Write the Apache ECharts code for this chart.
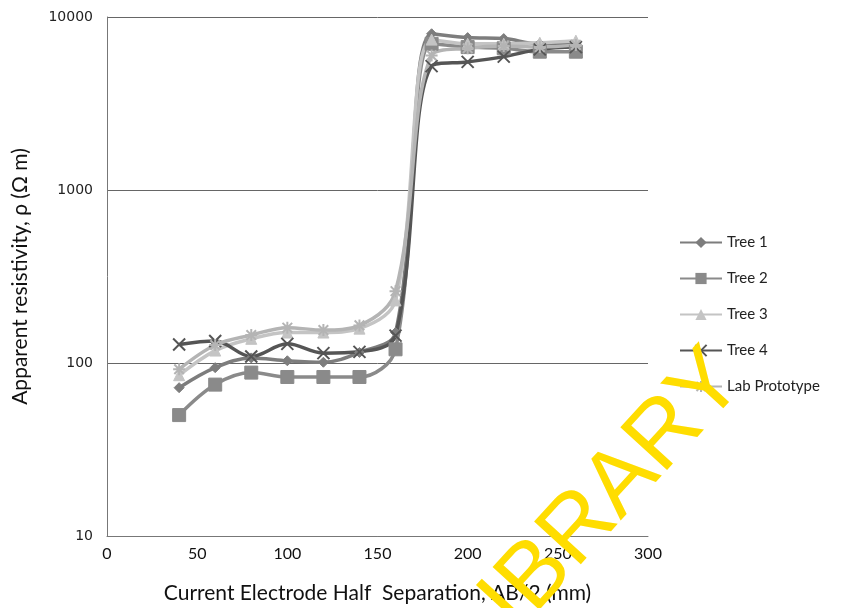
<!DOCTYPE html>
<html><head><meta charset="utf-8">
<script src="https://cdn.jsdelivr.net/npm/echarts@6/dist/echarts.min.js"></script>
<style>html,body{margin:0;padding:0;background:#fff}#c{width:850px;height:608px}</style>
</head><body><div id="c"></div>
<script>
var xs = [40, 60, 80, 100, 120, 140, 160, 180, 200, 220, 240, 260];
var tree1 = [72, 94, 107, 103, 101, 115, 150, 8000, 7600, 7500, 7000, 7000];
var tree2 = [50, 75, 88, 83, 83, 83, 120, 7000, 6700, 6600, 6300, 6300];
var tree3 = [85, 118, 138, 150, 150, 158, 230, 7400, 7000, 7000, 7100, 7300];
var tree4 = [128, 134, 109, 129, 114, 116, 144, 5200, 5500, 5900, 6500, 6700];
var lab = [92, 127, 145, 160, 155, 165, 260, 6000, 6600, 6800, 6700, 6900];
var yTicks = [10, 100, 1000, 10000];
var xTicks = [0, 50, 100, 150, 200, 250, 300];

function pts(v){ return xs.map(function(x,i){ return [x, v[i]]; }); }
var font = 'Lato, "Open Sans", sans-serif';
function mk(name, data, color, symbol, size, stroke){
  var it = {color:color, borderColor:color};
  if (stroke) { it.borderWidth = 2; }
  return {name:name, type:'line', data:pts(data), smooth:0.35, symbol:symbol, symbolSize:size,
    lineStyle:{color:color, width:3.5}, itemStyle:it, showSymbol:true};
}
var chart = echarts.init(document.getElementById('c'), null, {renderer:'canvas'});
chart.setOption({
  animation:false,
  backgroundColor:'#fff',
  grid:{left:107, right:202, top:17, bottom:72, containLabel:false, outerBoundsMode:'none'},
  legend:{orient:'vertical', left:674, top:230, itemGap:21, itemWidth:42, itemHeight:14,
    textStyle:{fontFamily:font, fontSize:15, color:'#222'},
    data:['Tree 1','Tree 2','Tree 3','Tree 4','Lab Prototype']},
  xAxis:{type:'value', min:0, max:300, interval:50,
    name:'Current Electrode Half  Separation, AB/2 (mm)', nameLocation:'middle', nameGap:47,
    nameTextStyle:{fontFamily:font, fontSize:21, color:'#111'},
    axisLine:{lineStyle:{color:'#777', width:1}}, axisTick:{show:false}, splitLine:{show:false},
    axisLabel:{fontFamily:font, fontSize:16, color:'#111', margin:10,
      formatter:function(v){ return xTicks.indexOf(v) >= 0 ? String(v) : ''; }}},
  yAxis:{type:'log', logBase:10, min:10, max:10000,
    name:'Apparent resistivity, ρ (Ω m)', nameLocation:'middle', nameGap:76,
    nameTextStyle:{fontFamily:font, fontSize:21, color:'#111'},
    axisLine:{show:true, lineStyle:{color:'#777', width:1}}, axisTick:{show:false},
    splitLine:{lineStyle:{color:'#666', width:1}},
    axisLabel:{fontFamily:'"DejaVu Sans", sans-serif', fontSize:14, color:'#222', margin:14,
      formatter:function(v){ return String(Math.round(v)); }}},
  series:[
    mk('Tree 1', tree1, '#7d7d7d', 'diamond', 10),
    mk('Tree 2', tree2, '#8a8a8a', 'rect', 13),
    mk('Tree 3', tree3, '#c4c4c4', 'triangle', 11),
    mk('Tree 4', tree4, '#555555', 'path://M0,0L10,10M10,0L0,10', 12, true),
    mk('Lab Prototype', lab, '#b4b4b4', 'path://M0,5L10,5M5,0L5,10M1,1L9,9M9,1L1,9', 12, true)
  ],
  graphic:[{type:'text', x:596, y:510, rotation:0.83, z:100,
    style:{text:'LIBRARY', fill:'#FFDD00', font:'92px "Liberation Sans", Arial, sans-serif',
      textAlign:'center', textVerticalAlign:'middle'}}]
});
</script></body></html>
